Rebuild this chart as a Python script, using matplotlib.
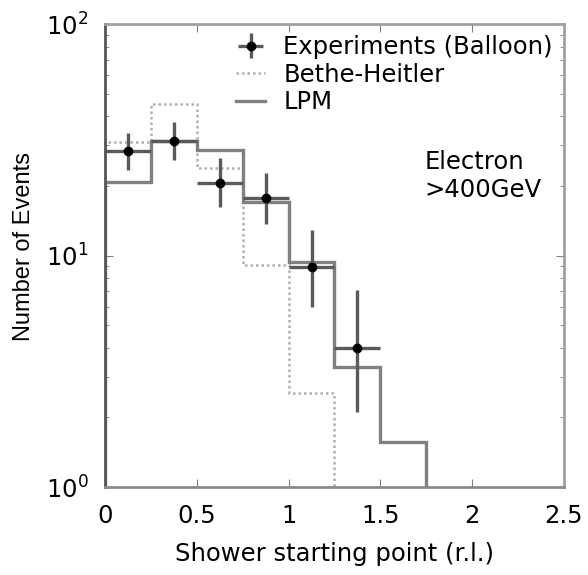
import matplotlib
matplotlib.use("Agg")
import matplotlib.pyplot as plt
from matplotlib.ticker import LogLocator, NullFormatter, MultipleLocator

# measured points (Balloon)
exp_x = [0.125, 0.375, 0.625, 0.875, 1.125, 1.375]
exp_y = [28.4, 31.3, 20.6, 17.7, 8.9, 4.0]
exp_lo = [5.0, 5.4, 4.4, 4.0, 2.9, 1.9]
exp_hi = [5.4, 6.5, 5.7, 5.1, 4.0, 3.1]
exp_xerr = [0.125] * 6

# simulation histograms
bh_edges = [0, 0.25, 0.5, 0.75, 1.0, 1.25]
bh_vals = [31.0, 45.0, 24.0, 9.1, 2.54]
lpm_edges = [0, 0.25, 0.5, 0.75, 1.0, 1.25, 1.5, 1.75]
lpm_vals = [20.8, 31.3, 28.6, 17.1, 9.4, 3.3, 1.57]

plt.rcParams['font.family'] = ['DejaVu Sans']
fs = 17.5

fig = plt.figure(figsize=(5.88, 5.75), dpi=100)
ax = fig.add_axes([0.1786, 0.153, 0.7804, 0.805])

ax.stairs(bh_vals, bh_edges, baseline=0.5, color="#b0b0b0", lw=1.8, ls=(0, (1, 1.2)),
          label="Bethe-Heitler")
ax.stairs(lpm_vals, lpm_edges, baseline=0.5, color="#808080", lw=2.4, label="LPM")
ax.errorbar(exp_x, exp_y, yerr=[exp_lo, exp_hi], xerr=exp_xerr, fmt="o", color="black",
            ms=6, ecolor="#5a5a5a", elinewidth=2.4, capsize=0, label="Experiments (Balloon)")

ax.set_yscale("log")
ax.set_xlim(0, 2.5)
ax.set_ylim(1, 100)
ax.xaxis.set_major_locator(MultipleLocator(0.5))
ax.xaxis.set_major_formatter(plt.FuncFormatter(lambda v, p: "%g" % v))
ax.yaxis.set_minor_locator(LogLocator(base=10, subs=range(2, 10)))
ax.yaxis.set_minor_formatter(NullFormatter())
ax.tick_params(which="both", direction="in", top=True, right=True, labelsize=fs,
               color="#808080")
ax.tick_params(axis="x", pad=12)
ax.tick_params(axis="y", pad=12)
ax.tick_params(which="major", length=6)
ax.tick_params(which="minor", length=3)
for s in ax.spines.values():
    s.set_color("#a0a0a0")
    s.set_linewidth(2)
ax.spines["left"].set_color("#555555")
ax.spines["bottom"].set_color("#8a8a8a")

ax.set_xlabel("Shower starting point (r.l.)", fontsize=fs, labelpad=10)
ax.set_ylabel("Number of Events", fontsize=17, family="Liberation Sans")
ax.yaxis.set_label_coords(-0.1525, 0.52)

ax.text(0.697, 0.728, "Electron\n>400GeV", transform=ax.transAxes, fontsize=fs,
        va="top", ha="left", linespacing=1.2)

h, l = ax.get_legend_handles_labels()
order = [2, 0, 1]
ax.legend([h[i] for i in order], [l[i] for i in order], loc="upper right", frameon=False,
          fontsize=fs, handlelength=1.2, borderaxespad=0.0, borderpad=0.45,
          labelspacing=0.15, handletextpad=0.75)

fig.savefig("out.png", dpi=100)
